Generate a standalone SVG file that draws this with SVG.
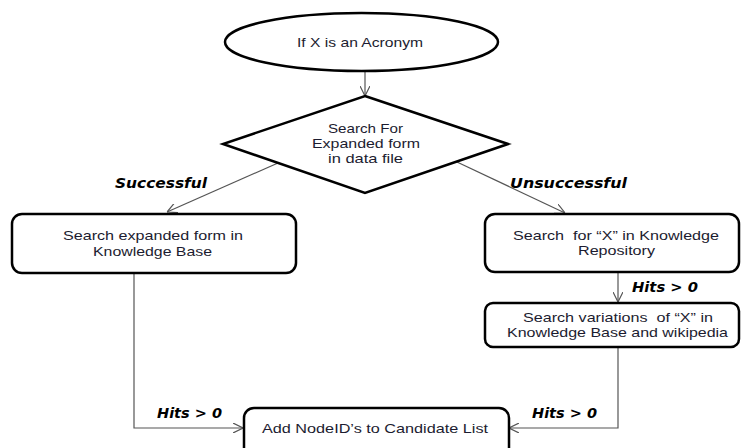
<svg xmlns="http://www.w3.org/2000/svg" width="741" height="448" viewBox="0 0 741 448">
<defs>
<style>
.node{fill:#fff;stroke:#000;stroke-width:2.5}
.t{font-family:"Liberation Sans",Arial,sans-serif;font-size:13px;fill:#1c1c30;text-anchor:middle}
.lbl{font-family:"DejaVu Sans","Liberation Sans",sans-serif;font-size:14px;font-weight:bold;font-style:italic;fill:#000}
.c{fill:none;stroke:#555;stroke-width:1.2}
</style>
<marker id="arr" viewBox="0 0 10 10" refX="10" refY="5" markerWidth="10" markerHeight="10" markerUnits="userSpaceOnUse" orient="auto">
<polyline points="0,0 10,5 0,10" fill="none" stroke="#555" stroke-width="1.2"/>
</marker>
</defs>
<rect width="741" height="448" fill="#fff"/>
<g id="connectors">
<line class="c" x1="365" y1="71" x2="365" y2="96" marker-end="url(#arr)"/>
<line class="c" x1="278" y1="163" x2="167" y2="212" marker-end="url(#arr)"/>
<line class="c" x1="457" y1="162" x2="565" y2="213" marker-end="url(#arr)"/>
<polyline class="c" points="134,273 134,428 243,428" marker-end="url(#arr)"/>
<line class="c" x1="618" y1="272" x2="618" y2="302" marker-end="url(#arr)"/>
<polyline class="c" points="618,347 618,428 509,428" marker-end="url(#arr)"/>
<text class="lbl" x="115" y="188" textLength="92" lengthAdjust="spacingAndGlyphs">Successful</text>
<text class="lbl" x="510" y="188" textLength="117" lengthAdjust="spacingAndGlyphs">Unsuccessful</text>
<text class="lbl" x="157" y="418" textLength="65" lengthAdjust="spacingAndGlyphs">Hits &gt; 0</text>
<text class="lbl" x="632" y="292" textLength="66" lengthAdjust="spacingAndGlyphs">Hits &gt; 0</text>
<text class="lbl" x="532" y="418" textLength="65" lengthAdjust="spacingAndGlyphs">Hits &gt; 0</text>
</g>
<g id="start">
<ellipse class="node" cx="361.5" cy="42" rx="136.5" ry="29"/>
<text class="t" x="360" y="47" textLength="126" lengthAdjust="spacingAndGlyphs">If X is an Acronym</text>
</g>
<g id="decision">
<polygon class="node" points="365,96 508,144 365,193 223,144"/>
<text class="t" x="365.5" y="133" textLength="75" lengthAdjust="spacingAndGlyphs">Search For</text>
<text class="t" x="366" y="148" textLength="108" lengthAdjust="spacingAndGlyphs">Expanded form</text>
<text class="t" x="365.5" y="163" textLength="75" lengthAdjust="spacingAndGlyphs">in data file</text>
</g>
<g id="search-kb">
<rect class="node" x="12" y="214" width="284" height="59" rx="10"/>
<text class="t" x="153" y="240" textLength="180" lengthAdjust="spacingAndGlyphs">Search expanded form in</text>
<text class="t" x="152.5" y="256" textLength="119" lengthAdjust="spacingAndGlyphs">Knowledge Base</text>
</g>
<g id="search-repo">
<rect class="node" x="485" y="214" width="254" height="58" rx="10"/>
<text class="t" x="616" y="240" textLength="206" lengthAdjust="spacingAndGlyphs" xml:space="preserve">Search  for “X” in Knowledge</text>
<text class="t" x="616.5" y="255" textLength="77" lengthAdjust="spacingAndGlyphs">Repository</text>
</g>
<g id="search-variations">
<rect class="node" x="485" y="303" width="254" height="44" rx="8"/>
<text class="t" x="618" y="322" textLength="190" lengthAdjust="spacingAndGlyphs" xml:space="preserve">Search variations  of “X” in</text>
<text class="t" x="617.5" y="337" textLength="221" lengthAdjust="spacingAndGlyphs">Knowledge Base and wikipedia</text>
</g>
<g id="add-candidates">
<rect class="node" x="244" y="408" width="265" height="50" rx="10"/>
<text class="t" x="375" y="433" textLength="226" lengthAdjust="spacingAndGlyphs">Add NodeID’s to Candidate List</text>
</g>
</svg>
